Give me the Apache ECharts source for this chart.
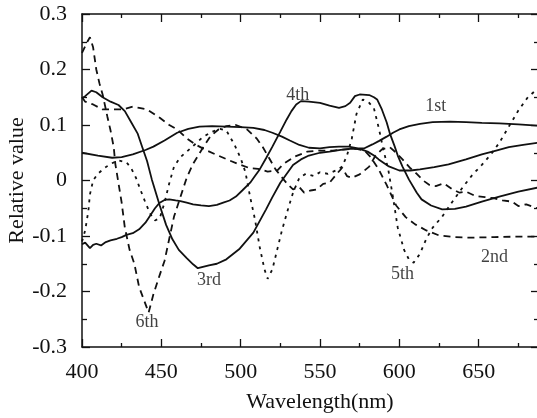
<!DOCTYPE html>
<html>
<head>
<meta charset="utf-8">
<script src="https://cdn.jsdelivr.net/npm/echarts@6/dist/echarts.min.js"></script>
<style>
html, body { margin: 0; padding: 0; background: #fff; }
#main { width: 537px; height: 418px; }
</style>
</head>
<body>
<div id="main"></div>
<script>
// principal components, [wavelength nm, relative value]
var first = [[400,0.050],[410,0.045],[419,0.041],[425,0.042],[432,0.047],[440,0.055],[445,0.061],[452,0.072],[460,0.086],[467,0.093],[474,0.097],[482,0.098],[491,0.097],[500,0.096],[508,0.095],[515,0.091],[520,0.086],[526,0.079],[531,0.072],[537,0.064],[543,0.059],[550,0.058],[556,0.060],[562,0.061],[568,0.061],[574,0.058],[578,0.058],[583,0.065],[587,0.071],[592,0.079],[596,0.086],[600,0.092],[606,0.098],[613,0.102],[621,0.105],[632,0.106],[642,0.105],[652,0.104],[663,0.103],[675,0.101],[687,0.099]];

var second = [[400,0.150],[402,0.142],[407,0.137],[413,0.128],[420,0.128],[426,0.128],[432,0.133],[436,0.131],[441,0.128],[449,0.113],[455,0.100],[460,0.092],[466,0.076],[472,0.064],[478,0.055],[485,0.046],[493,0.036],[500,0.028],[506,0.022],[511,0.021],[517,0.016],[523,0.018],[527,0.030],[534,0.043],[542,0.052],[550,0.054],[558,0.054],[566,0.056],[573,0.057],[578,0.054],[582,0.042],[587,0.020],[592,-0.008],[598,-0.045],[604,-0.066],[610,-0.079],[617,-0.090],[625,-0.099],[635,-0.102],[645,-0.103],[660,-0.102],[675,-0.101],[687,-0.101]];

var third = [[400,0.148],[402,0.152],[406,0.162],[409,0.159],[413,0.150],[418,0.142],[423,0.136],[427,0.125],[431,0.105],[435,0.085],[438,0.060],[441,0.035],[444,0.002],[449,-0.045],[453,-0.080],[457,-0.106],[461,-0.125],[466,-0.140],[470,-0.151],[473,-0.158],[480,-0.153],[485,-0.150],[491,-0.142],[499,-0.124],[508,-0.094],[516,-0.052],[520,-0.030],[525,-0.004],[533,0.028],[538,0.038],[543,0.045],[550,0.050],[556,0.052],[563,0.055],[569,0.057],[575,0.057],[580,0.052],[584,0.045],[587,0.038],[593,0.026],[600,0.018],[607,0.018],[613,0.020],[622,0.024],[631,0.029],[642,0.038],[652,0.047],[661,0.054],[669,0.060],[678,0.064],[687,0.068]];

var fourth = [[400,-0.115],[402,-0.112],[405,-0.122],[407,-0.116],[409,-0.114],[412,-0.117],[415,-0.111],[418,-0.108],[422,-0.105],[425,-0.102],[428,-0.098],[432,-0.095],[436,-0.088],[440,-0.076],[443,-0.063],[446,-0.050],[449,-0.040],[452,-0.035],[455,-0.034],[459,-0.036],[462,-0.037],[466,-0.040],[470,-0.043],[475,-0.045],[480,-0.046],[485,-0.044],[489,-0.040],[493,-0.036],[497,-0.029],[501,-0.018],[506,-0.004],[509,0.008],[512,0.020],[516,0.040],[520,0.061],[525,0.088],[529,0.110],[532,0.125],[535,0.137],[538,0.143],[543,0.142],[550,0.140],[556,0.135],[562,0.131],[566,0.134],[569,0.140],[572,0.152],[575,0.155],[581,0.154],[584,0.150],[586,0.146],[589,0.128],[592,0.105],[594,0.085],[597,0.062],[599,0.045],[602,0.025],[606,0.002],[611,-0.022],[614,-0.034],[620,-0.045],[627,-0.052],[635,-0.051],[642,-0.047],[652,-0.038],[663,-0.029],[675,-0.020],[687,-0.013]];

var fifth = [[400,-0.110],[402,-0.090],[404,-0.055],[405,-0.025],[407,0.000],[410,0.012],[414,0.022],[418,0.030],[423,0.036],[428,0.033],[431,0.022],[434,0.005],[437,-0.018],[440,-0.040],[443,-0.060],[446,-0.072],[449,-0.068],[452,-0.040],[455,-0.005],[458,0.025],[462,0.042],[466,0.052],[470,0.062],[476,0.078],[482,0.088],[487,0.093],[491,0.090],[496,0.065],[500,0.040],[503,0.015],[506,-0.030],[509,-0.070],[512,-0.120],[515,-0.160],[517,-0.177],[520,-0.160],[523,-0.125],[526,-0.090],[530,-0.050],[533,-0.022],[537,0.005],[541,0.012],[546,0.008],[550,0.015],[555,0.012],[560,0.018],[564,0.025],[567,0.045],[570,0.075],[573,0.120],[577,0.146],[581,0.140],[584,0.130],[587,0.095],[590,0.055],[593,0.020],[596,-0.030],[599,-0.085],[603,-0.125],[606,-0.142],[609,-0.148],[613,-0.132],[617,-0.105],[621,-0.085],[627,-0.065],[633,-0.040],[640,-0.012],[646,0.010],[652,0.028],[658,0.048],[663,0.068],[669,0.097],[675,0.126],[681,0.150],[687,0.165]];

var sixth = [[400,0.230],[403,0.248],[405,0.258],[407,0.240],[409,0.200],[411,0.175],[413,0.155],[416,0.115],[418,0.090],[420,0.060],[421,0.030],[423,-0.005],[425,-0.040],[427,-0.085],[430,-0.125],[433,-0.150],[436,-0.192],[439,-0.215],[442,-0.238],[445,-0.205],[449,-0.170],[452,-0.145],[455,-0.105],[458,-0.065],[462,-0.030],[466,0.005],[470,0.030],[476,0.058],[481,0.080],[486,0.092],[491,0.098],[497,0.100],[504,0.092],[510,0.076],[514,0.060],[518,0.040],[522,0.020],[527,0.002],[530,-0.008],[533,-0.016],[537,-0.012],[540,-0.022],[544,-0.018],[548,-0.016],[552,-0.006],[556,-0.004],[560,0.010],[564,0.023],[567,0.008],[570,0.005],[575,0.011],[581,0.025],[585,0.045],[589,0.056],[594,0.060],[598,0.050],[602,0.038],[607,0.022],[611,0.012],[615,0.000],[619,-0.008],[623,-0.010],[628,-0.005],[633,-0.015],[638,-0.022],[642,-0.020],[648,-0.028],[654,-0.030],[660,-0.032],[665,-0.036],[671,-0.038],[675,-0.046],[680,-0.043],[687,-0.050]];

// curve labels
var labelText = ['1st', '2nd', '3rd', '4th', '5th', '6th'];
var labelNm = [623, 660, 480, 536, 602, 441];
var labelVal = [0.133, -0.139, -0.180, 0.153, -0.169, -0.256];

var ink = '#111';
var serif = 'Liberation Serif';

var myChart = echarts.init(document.getElementById('main'));

function curve(name, data, type) {
    return {
        name: name,
        type: 'line',
        data: data,
        showSymbol: false,
        smooth: false,
        lineStyle: { color: ink, width: 1.8, type: type },
        z: 3
    };
}

var labelData = labelText.map(function (t, i) {
    return { name: t, value: [labelNm[i], labelVal[i]] };
});

var tickLine = { color: ink, width: 1.3 };

var option = {
    animation: false,
    backgroundColor: '#fff',
    grid: { left: 82, right: -21, top: 14, bottom: 71, containLabel: false, outerBoundsMode: 'none' },
    xAxis: [{
        type: 'value',
        min: 400,
        max: 700,
        interval: 50,
        position: 'bottom',
        name: 'Wavelength(nm)',
        nameLocation: 'middle',
        nameGap: 44,
        nameTextStyle: { fontFamily: serif, fontSize: 22, color: ink },
        axisLine: { show: true, onZero: false, lineStyle: { color: ink, width: 1.5 } },
        axisTick: { inside: true, length: 8, lineStyle: tickLine },
        minorTick: { show: true, splitNumber: 2, length: 4, lineStyle: tickLine },
        axisLabel: { margin: 14, fontFamily: serif, fontSize: 22, color: ink, showMaxLabel: false },
        splitLine: { show: false }
    }, {
        type: 'value',
        min: 400,
        max: 700,
        interval: 50,
        position: 'top',
        axisLine: { show: true, onZero: false, lineStyle: { color: ink, width: 1.5 } },
        axisTick: { inside: true, length: 8, lineStyle: tickLine },
        minorTick: { show: true, splitNumber: 2, length: 4, lineStyle: tickLine },
        axisLabel: { show: false },
        splitLine: { show: false }
    }],
    yAxis: [{
        type: 'value',
        min: -0.3,
        max: 0.3,
        interval: 0.1,
        position: 'left',
        name: 'Relative value',
        nameLocation: 'middle',
        nameRotate: 90,
        nameGap: 54,
        nameMoveOverlap: false,
        nameTextStyle: { fontFamily: serif, fontSize: 22, color: ink },
        axisLine: { show: true, onZero: false, lineStyle: { color: ink, width: 1.5 } },
        axisTick: { inside: true, length: 8, lineStyle: tickLine },
        minorTick: { show: true, splitNumber: 2, length: 5, lineStyle: tickLine },
        axisLabel: { margin: 15, fontFamily: serif, fontSize: 22, color: ink },
        splitLine: { show: false }
    }, {
        type: 'value',
        min: -0.3,
        max: 0.3,
        interval: 0.1,
        position: 'right',
        offset: -19,
        axisLine: { show: true, onZero: false, lineStyle: { color: ink, width: 1.5 } },
        axisTick: { inside: true, length: 8, lineStyle: tickLine },
        minorTick: { show: true, splitNumber: 2, length: 5, lineStyle: tickLine },
        axisLabel: { show: false },
        splitLine: { show: false }
    }],
    series: [
        curve('1st', first, 'solid'),
        curve('2nd', second, [7, 5]),
        curve('3rd', third, 'solid'),
        curve('4th', fourth, 'solid'),
        curve('5th', fifth, [3, 5]),
        curve('6th', sixth, [7, 5]),
        {
            name: 'labels',
            type: 'scatter',
            data: labelData,
            symbolSize: 1,
            itemStyle: { color: 'rgba(0,0,0,0)' },
            label: {
                show: true,
                position: 'inside',
                formatter: '{b}',
                fontFamily: serif,
                fontSize: 18,
                color: ink
            },
            z: 5
        }
    ]
};

myChart.setOption(option);
</script>
</body>
</html>
